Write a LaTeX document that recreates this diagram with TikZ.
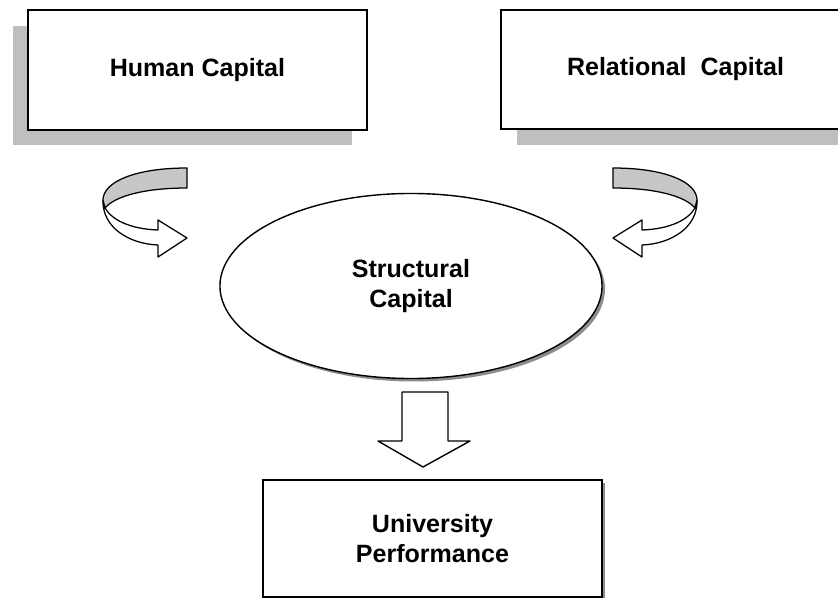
\documentclass[tikz,border=0pt]{standalone}
\usepackage{fontspec}
\setmainfont{Liberation Sans}
\usetikzlibrary{positioning,shapes.geometric}
\tikzset{
  capbox/.style={draw, line width=1.1pt, fill=white, inner sep=0pt, align=center,
    minimum width=8.475cm, minimum height=3cm,
    font=\fontsize{17.8}{21.3}\selectfont\bfseries},
  capell/.style={ellipse, draw, line width=1pt, fill=white, inner sep=0pt, align=center,
    minimum width=9.55cm, minimum height=4.625cm,
    font=\fontsize{17.8}{21.3}\selectfont\bfseries},
  curl/.style={draw, line width=0.9pt, line join=round},
  boxshadow/.style={fill=black!25}
}
% curled block arrow, drawn in pixel units
\newcommand{\curlarrow}{%
  \path[curl, fill=white] (103,200) .. controls (102,228) and (130,244) .. (158,245)
    -- (158,257) -- (187,238) -- (158,220) -- (158,230)
    .. controls (130,229) and (112,220) .. (105,208) -- cycle;
  \path[curl, fill=black!22] (187,168) .. controls (135,168) and (103,182) .. (103,200)
    -- (105,208) .. controls (115,196) and (145,188) .. (187,188) -- cycle;}
\begin{document}
\begin{tikzpicture}[x=0.025cm,y=-0.025cm]
\clip (0,0) rectangle (838,598);
\fill[white] (0,0) rectangle (838,598);
% top boxes
\fill[boxshadow] (13,26) rectangle (352,145);
\fill[boxshadow] (517,26) rectangle (880,145);
\node[capbox] (hc) at (197.5,70) {Human Capital};
\node[capbox, minimum width=8.725cm, minimum height=2.975cm] (rc) at (675.5,69.5) {Relational\ \ Capital};
% middle
\fill[black!45] (414,289) ellipse [x radius=191, y radius=92.5];
\node[capell] (sc) at (411,286) {Structural\\Capital};
\curlarrow
\begin{scope}[shift={(800,0)}, xscale=-1]
\curlarrow
\end{scope}
% down arrow
\draw[curl, line width=1pt, fill=white] (402,392) -- (448,392) -- (448,441) -- (470,441)
  -- (423,467) -- (378,441) -- (402,441) -- cycle;
% bottom box
\fill[black!45] (266,483) rectangle (605,600);
\node[capbox, minimum height=2.925cm] (up) at (432.5,538.5) {University\\Performance};
\end{tikzpicture}
\end{document}
